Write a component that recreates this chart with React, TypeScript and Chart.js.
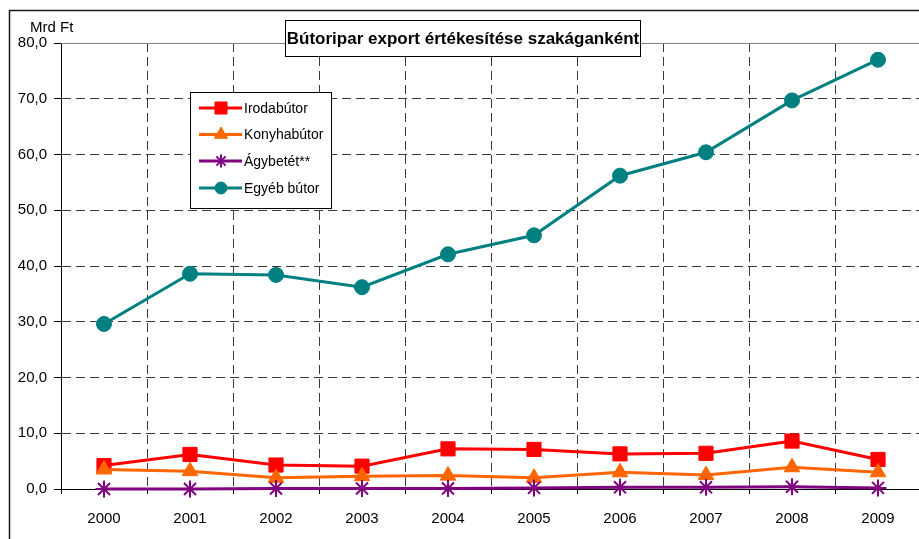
import React, { useEffect, useRef } from 'react';
import { Chart, registerables } from 'chart.js';
import { drawPoint } from 'chart.js/helpers';

Chart.register(...registerables);

const years = ['2000', '2001', '2002', '2003', '2004', '2005', '2006', '2007', '2008', '2009'];
const irodabutor = [4.2, 6.2, 4.3, 4.1, 7.2, 7.1, 6.3, 6.4, 8.6, 5.3];
const konyhabutor = [3.5, 3.2, 2.0, 2.3, 2.4, 2.0, 3.0, 2.5, 3.9, 3.0];
const agybetet = [0.0, 0.0, 0.1, 0.1, 0.1, 0.2, 0.3, 0.3, 0.4, 0.2];
const egyebButor = [29.6, 38.6, 38.4, 36.2, 42.1, 45.5, 56.2, 60.4, 69.7, 77.0];
const seriesNames = ['Irodabútor', 'Konyhabútor', 'Ágybetét**', 'Egyéb bútor'];
const seriesColors = ['#FF0000', '#FF6600', '#800080', '#008080'];
const seriesMarkers = ['rect', 'triangle', 'star', 'circle'];
const markerRadius = [10, 9, 8.5, 7.5];
const legendMarkerRadius = [8.5, 7.5, 6.5, 6];
const yMin = 0;
const yMax = 80;
const yStep = 10;
const chartTitle = 'Bútoripar export értékesítése szakáganként';
const yUnit = 'Mrd Ft';

const FONT = "'Liberation Sans', Arial, sans-serif";

const CW = 932;
const CH = 545;

export default function App() {
  const ref = useRef<HTMLCanvasElement>(null);

  useEffect(() => {
    const canvas = ref.current;
    if (!canvas) return;
    const seriesData = [irodabutor, konyhabutor, agybetet, egyebButor];

    const overlay = {
      id: 'overlay',
      beforeDraw(chart: any) {
        const ctx = chart.ctx;
        ctx.save();
        ctx.fillStyle = '#ffffff';
        ctx.fillRect(0, 0, chart.width, chart.height);
        ctx.restore();
      },
      afterDraw(chart: any) {
        const ctx = chart.ctx;
        const a = chart.chartArea;
        ctx.save();
        ctx.strokeStyle = '#808080';
        ctx.lineWidth = 1;
        ctx.beginPath();
        ctx.moveTo(a.left, Math.round(a.top) + 0.5);
        ctx.lineTo(a.right, Math.round(a.top) + 0.5);
        ctx.lineTo(a.right, a.bottom);
        ctx.stroke();
        ctx.strokeStyle = '#1a1a1a';
        ctx.lineWidth = 1.5;
        ctx.strokeRect(9.5, 10.5, 2000, 2000);
        ctx.fillStyle = '#000';
        ctx.font = `15px ${FONT}`;
        ctx.textAlign = 'left';
        ctx.textBaseline = 'alphabetic';
        ctx.fillText(yUnit, 30, 32);
        ctx.fillStyle = '#fff';
        ctx.fillRect(285.5, 20.5, 355, 36);
        ctx.strokeStyle = '#000';
        ctx.lineWidth = 1;
        ctx.strokeRect(285.5, 20.5, 355, 36);
        ctx.fillStyle = '#000';
        ctx.font = `bold 17px ${FONT}`;
        ctx.textAlign = 'center';
        ctx.textBaseline = 'middle';
        ctx.fillText(chartTitle, 463, 39);
        ctx.fillStyle = '#fff';
        ctx.fillRect(190.5, 92.5, 141, 116);
        ctx.strokeStyle = '#000';
        ctx.strokeRect(190.5, 92.5, 141, 116);
        const rows = [108, 134.5, 161, 188];
        seriesNames.forEach((name, i) => {
          const y = rows[i];
          ctx.strokeStyle = seriesColors[i];
          ctx.lineWidth = 3;
          ctx.beginPath();
          ctx.moveTo(199, y);
          ctx.lineTo(242, y);
          ctx.stroke();
          ctx.fillStyle = seriesColors[i];
          ctx.strokeStyle = seriesColors[i];
          ctx.lineWidth = seriesMarkers[i] === 'star' ? 2 : 1;
          drawPoint(ctx, { pointStyle: seriesMarkers[i], radius: legendMarkerRadius[i], rotation: 0, borderWidth: ctx.lineWidth }, 221, y);
          ctx.fillStyle = '#000';
          ctx.font = `14px ${FONT}`;
          ctx.textAlign = 'left';
          ctx.textBaseline = 'middle';
          ctx.fillText(name, 244, y + 1);
        });
        ctx.restore();
      },
    };

    const chart = new Chart(canvas, {
      type: 'line',
      data: {
        labels: years,
        datasets: seriesNames.map((name, i) => ({
          label: name,
          data: seriesData[i],
          borderColor: seriesColors[i],
          backgroundColor: seriesColors[i],
          borderWidth: 3,
          pointStyle: seriesMarkers[i] as any,
          pointRadius: markerRadius[i],
          pointBorderWidth: seriesMarkers[i] === 'star' ? 2 : 1,
          pointBackgroundColor: seriesColors[i],
          pointBorderColor: seriesColors[i],
          tension: 0,
          order: 4 - i,
          clip: false as any,
        })),
      },
      options: {
        animation: false,
        responsive: false,
        layout: { padding: { left: 0, top: 43, right: 7, bottom: 0 } },
        plugins: {
          legend: { display: false },
          title: { display: false },
          tooltip: { enabled: false },
        },
        scales: {
          x: {
            type: 'category',
            offset: true,
            grid: {
              offset: true,
              color: '#3a3a3a',
              lineWidth: 1,
              tickBorderDash: [] as any,
              tickColor: '#000',
              tickLength: 5,
              drawTicks: true,
            } as any,
            border: { display: true, color: '#000', width: 1, dash: [9, 5] },
            ticks: {
              color: '#000',
              font: { family: FONT, size: 15 },
              padding: 16,
              maxRotation: 0,
              autoSkip: false,
            },
            afterFit: (s: any) => { s.height = 56; },
          },
          y: {
            min: yMin,
            max: yMax,
            grid: {
              color: (c: any) => (c.tick && c.tick.value === yMax ? 'rgba(0,0,0,0)' : '#3a3a3a'),
              lineWidth: 1,
              tickBorderDash: [] as any,
              tickColor: '#000',
              tickLength: 7,
              drawTicks: true,
            } as any,
            border: { display: true, color: '#000', width: 1, dash: [9, 5] },
            ticks: {
              stepSize: yStep,
              color: '#000',
              font: { family: FONT, size: 15 },
              padding: 7,
              callback: (v: any) => Number(v).toFixed(1).replace('.', ','),
            },
            afterFit: (s: any) => { s.width = 61; },
          },
        },
      },
      plugins: [overlay],
    });
    return () => chart.destroy();
  }, []);

  return (
    <div style={{ position: 'fixed', left: 0, top: 0, width: 919, height: 539, overflow: 'hidden', background: '#fff' }}>
      <canvas ref={ref} width={CW} height={CH} style={{ width: CW, height: CH, display: 'block' }} />
    </div>
  );
}
